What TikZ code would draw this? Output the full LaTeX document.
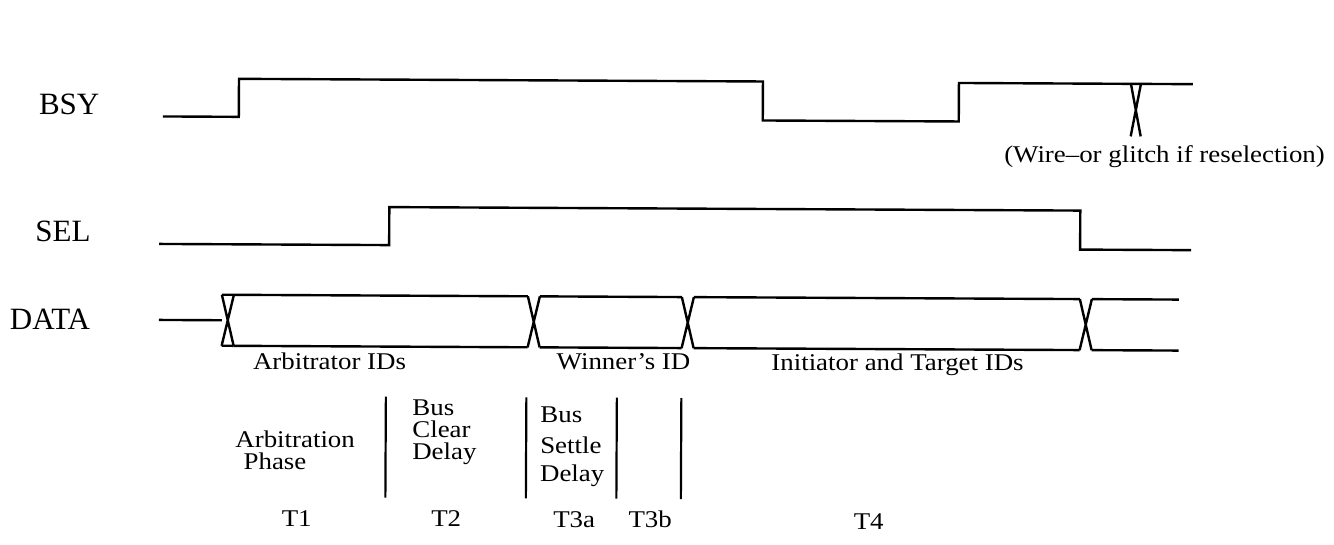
\documentclass[tikz,border=0pt]{standalone}
\usepackage{fontspec}
\usepackage{graphicx}
\setmainfont{Liberation Serif}
\newcommand\wtxt[1]{\scalebox{1.12}[1]{#1}}
\begin{document}
\begin{tikzpicture}[x=1pt,y=-1pt,
  wave/.style={line width=2.4pt, line join=miter},
  divider/.style={line width=2.2pt},
  siglbl/.style={font=\fontsize{31}{33}\selectfont, inner sep=0pt, anchor=base west},
  lbl/.style={font=\fontsize{24}{26}\selectfont, inner sep=0pt, anchor=base},
  lbll/.style={font=\fontsize{24}{26}\selectfont, inner sep=0pt, anchor=base west}]
\useasboundingbox (0,0) rectangle (1334,545);
\begin{scope}[rotate around={-0.29:(667,272)}]
% signal names
\node[siglbl] (bsy) at (38,118) {BSY};
\node[siglbl] (sel) at (35,245) {SEL};
\node[siglbl] (data) at (10,333) {DATA};
% BSY
\draw[wave] (162,119) -- (238,119) -- (238,81) -- (762,81) -- (762,120) -- (958,120) -- (958,81.5) -- (1192,81.5);
\draw[wave] (1130,81.5) -- (1140,134) (1140,81.5) -- (1130,134);
\node[lbl] (glitch) at (1164,159.5) {\wtxt{(Wire--or glitch if reselection)}};
% SEL
\draw[wave] (159,246.5) -- (389,246.5) -- (389,208.5) -- (1080,208.5) -- (1080,247.5) -- (1191,247.5);
% DATA
\draw[wave] (159,322.5) -- (222,322.5);
\draw[wave] (222,297) -- (234,297) (222,348) -- (234,348);
\foreach \a/\b in {222/234,528/540,682/694,1080/1092}
  \draw[wave] (\a,297) -- (\b,348) (\a,348) -- (\b,297);
\foreach \a/\b in {234/528,540/682,694/1080,1092/1179}
  \draw[wave] (\a,297) -- (\b,297) (\a,348) -- (\b,348);
\node[lbl] (arbids) at (330,371) {\wtxt{Arbitrator IDs}};
\node[lbl] (winid) at (624,370) {\wtxt{Winner's ID}};
\node[lbl] (initid) at (898,369) {\wtxt{Initiator and Target IDs}};
% phase dividers
\draw[divider] (386.5,398) -- (386.5,499);
\draw[divider] (527,398) -- (527,499);
\draw[divider] (617.5,398) -- (617.5,499);
\draw[divider] (682,398) -- (682,499);
% phase descriptions
\node[lbl] (arb1) at (296,449) {\wtxt{Arbitration}};
\node[lbl] (arb2) at (276,471) {\wtxt{Phase}};
\node[lbll] (bcd1) at (413,417) {\wtxt{Bus}};
\node[lbll] (bcd2) at (413,439) {\wtxt{Clear}};
\node[lbll] (bcd3) at (413,461) {\wtxt{Delay}};
\node[lbll] (bsd1) at (541,423.5) {\wtxt{Bus}};
\node[lbll] (bsd2) at (541,454.5) {\wtxt{Settle}};
\node[lbll] (bsd3) at (541,482.5) {\wtxt{Delay}};
% time labels
\node[lbl] (t1) at (298,528) {\wtxt{T1}};
\node[lbl] (t2) at (447.5,528) {\wtxt{T2}};
\node[lbl] (t3a) at (575.5,528) {\wtxt{T3a}};
\node[lbl] (t3b) at (651.5,528) {\wtxt{T3b}};
\node[lbl] (t4) at (870,528) {\wtxt{T4}};
\end{scope}
\end{tikzpicture}
\end{document}
